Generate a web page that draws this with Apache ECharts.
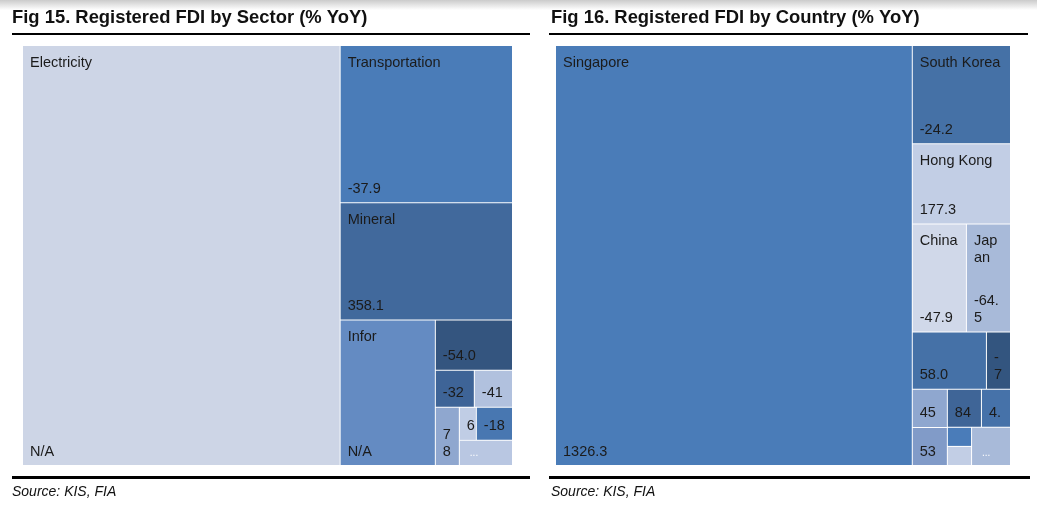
<!DOCTYPE html>
<html>
<head>
<meta charset="utf-8">
<script src="https://cdn.jsdelivr.net/npm/echarts@6/dist/echarts.min.js"></script>
<style>
html,body{margin:0;padding:0;width:1037px;height:517px;overflow:hidden;background:#fff;}
#shade{position:absolute;left:0;top:0;width:1037px;height:10px;background:linear-gradient(#cbcbcb,#ffffff);}
#c{position:absolute;left:0;top:0;width:1037px;height:517px;}
</style>
</head>
<body>
<div id="shade"></div>
<div id="c"></div>
<script>
// ---------- Fig 15: Registered FDI by Sector ----------
const sectorNames = ['Electricity', 'Transportation', 'Mineral', 'Infor', '', '', '', '', '', '', ''];
// registered FDI (size of each cell, estimated, USD mn)
const sectorFdi = [1328.3, 270.0, 201.2, 137.8, 38.5, 14.4, 14.1, 13.9, 5.6, 11.9, 13.3];
// % YoY shown in each cell (null = N/A, '...' = unreadable)
const sectorYoY = [null, -37.9, 358.1, null, -54.0, -32.6, -41.8, 78.3, 61.7, -18.5, '...'];

// ---------- Fig 16: Registered FDI by Country ----------
const countryNames = ['Singapore', 'South Korea', 'Hong Kong', 'China', 'Japan', '', '', '', '', '', '', '', '', ''];
const countryFdi = [1491.6, 96.0, 78.4, 58.3, 47.5, 42.2, 13.7, 13.3, 13.3, 12.9, 11.0, 4.6, 4.6, 14.8];
const countryYoY = [1326.3, -24.2, 177.3, -47.9, -64.5, 58.0, -72.4, 45.2, 53.8, 84.1, 4.6, -38.5, null, '...'];

// palettes (styles, kept apart from the data)
const sectorColors = ['#cdd5e6', '#4a7cb8', '#41699c', '#648bc2', '#34557f', '#3e6497', '#b1c1de', '#8fa7cf', '#c0cde5', '#4877b1', '#b9c7e2'];
const countryColors = ['#4a7cb8', '#4571a6', '#c2cee5', '#d0d8e9', '#a8bad9', '#4571a7', '#33557f', '#8fa7cf', '#819bc8', '#3f6597', '#4672a9', '#4a7cb9', '#c2cee5', '#a8bad9'];

const FONT = '"Liberation Sans", Arial, sans-serif';

function fmt(v) {
  if (v === null) return 'N/A';
  if (typeof v === 'number') return v.toFixed(1);
  return String(v);
}

function makeSeries(names, vals, yoy, colors, rect, ratio) {
  const base = {
    type: 'treemap',
    left: rect[0], top: rect[1], width: rect[2], height: rect[3],
    sort: false,
    squareRatio: ratio,
    roam: false,
    nodeClick: false,
    silent: true,
    animation: false,
    visibleMin: 0,
    breadcrumb: { show: false },
    upperLabel: { show: false },
    emphasis: { disabled: true }
  };
  const lbl = {
    show: true, distance: 0,
    color: '#1b1b1b', fontSize: 14.5, fontFamily: FONT, lineHeight: 17,
    overflow: 'breakAll', formatter: '{b}'
  };
  const shapes = Object.assign({}, base, {
    levels: [
      { itemStyle: { gapWidth: 1, borderWidth: 0, borderColor: '#ffffff' } },
      { itemStyle: { borderWidth: 0, gapWidth: 0 } }
    ],
    label: Object.assign({}, lbl, { position: 'insideTopLeft', padding: [8, 7, 6, 7] }),
    data: names.map((n, i) => ({ name: n, value: vals[i], itemStyle: { color: colors[i] } }))
  });
  const values = Object.assign({}, base, {
    levels: [
      { itemStyle: { gapWidth: 1, borderWidth: 0, borderColor: 'rgba(0,0,0,0)' } },
      { itemStyle: { borderWidth: 0, gapWidth: 0, borderColor: 'rgba(0,0,0,0)' } }
    ],
    label: Object.assign({}, lbl, { position: 'insideBottomLeft', padding: [6, 7, 5, 7] }),
    data: vals.map((v, i) => {
      const t = fmt(yoy[i]);
      const item = { name: t, value: v, itemStyle: { color: 'rgba(0,0,0,0)' } };
      if (t === '...') item.label = { color: '#ffffff', fontSize: 10, lineHeight: 10, padding: [0, 7, 7, 10] };
      return item;
    })
  });
  return [shapes, values];
}

const chart = echarts.init(document.getElementById('c'), null, { renderer: 'canvas' });

const graphic = [
  { type: 'text', x: 12, y: 18, style: { text: 'Fig 15. Registered FDI by Sector (% YoY)', font: 'bold 18.4px ' + FONT, fill: '#111', verticalAlign: 'middle' } },
  { type: 'text', x: 551, y: 18, style: { text: 'Fig 16. Registered FDI by Country (% YoY)', font: 'bold 18.4px ' + FONT, fill: '#111', verticalAlign: 'middle' } },
  { type: 'line', shape: { x1: 12, y1: 34, x2: 530, y2: 34 }, style: { stroke: '#000', lineWidth: 2 } },
  { type: 'line', shape: { x1: 549, y1: 34, x2: 1028, y2: 34 }, style: { stroke: '#000', lineWidth: 2 } },
  { type: 'line', shape: { x1: 12, y1: 477.5, x2: 530, y2: 477.5 }, style: { stroke: '#000', lineWidth: 3 } },
  { type: 'line', shape: { x1: 549, y1: 477.5, x2: 1030, y2: 477.5 }, style: { stroke: '#000', lineWidth: 3 } },
  { type: 'text', x: 12, y: 492, style: { text: 'Source: KIS, FIA', font: 'italic 14px ' + FONT, fill: '#111', verticalAlign: 'middle' } },
  { type: 'text', x: 551, y: 492, style: { text: 'Source: KIS, FIA', font: 'italic 14px ' + FONT, fill: '#111', verticalAlign: 'middle' } }
];

const series = []
  .concat(makeSeries(sectorNames, sectorFdi, sectorYoY, sectorColors, [23, 46, 489, 419], 0.85))
  .concat(makeSeries(countryNames, countryFdi, countryYoY, countryColors, [556, 46, 454, 419], 1.3));

chart.setOption({
  animation: false,
  graphic: graphic,
  series: series
});
</script>
</body>
</html>
